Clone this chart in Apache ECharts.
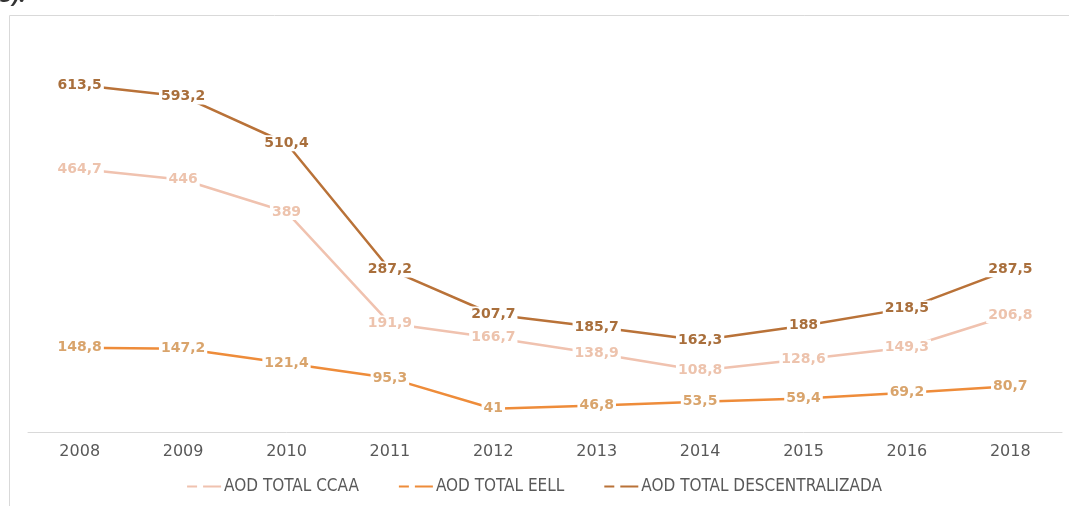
<!DOCTYPE html>
<html>
<head>
<meta charset="utf-8">
<script src="https://cdn.jsdelivr.net/npm/echarts@6/dist/echarts.min.js"></script>
<style>
html,body{margin:0;padding:0;background:#fff;}
#c{width:1069px;height:506px;}
</style>
</head>
<body>
<div id="c"></div>
<script>
const categories = ['2008','2009','2010','2011','2012','2013','2014','2015','2016','2018'];
const ccaa = [464.7,446,389,191.9,166.7,138.9,108.8,128.6,149.3,206.8];
const eell = [148.8,147.2,121.4,95.3,41,46.8,53.5,59.4,69.2,80.7];
const descentralizada = [613.5,593.2,510.4,287.2,207.7,185.7,162.3,188,218.5,287.5];
const seriesNames = ['AOD TOTAL CCAA','AOD TOTAL EELL','AOD TOTAL DESCENTRALIZADA'];

const chart = echarts.init(document.getElementById('c'));
const fmt = p => String(p.value).replace('.', ',');
function mk(name, data, lineColor, labelColor, z) {
  return {
    name, type: 'line', data, z,
    symbol: 'circle', symbolSize: 0.1, showSymbol: true,
    lineStyle: { color: lineColor, width: 2.5 },
    itemStyle: { color: lineColor },
    label: {
      show: true, position: 'inside', formatter: fmt,
      color: labelColor, fontFamily: 'DejaVu Sans', fontWeight: 'bold', fontSize: 14,
      backgroundColor: '#fff', padding: [1, 2]
    },
    labelLayout: { hideOverlap: false },
    emphasis: { disabled: true }
  };
}
const icon = 'path://M0,0 H10 V2 H0 Z M16,0 H34 V2 H16 Z';
chart.setOption({
  animation: false,
  grid: { left: 28, right: 7, top: 36, bottom: 74 },
  graphic: [
    { type: 'rect', shape: { x: 9.5, y: 15.5, width: 1080, height: 520 }, style: { fill: 'none', stroke: '#d9d9d9', lineWidth: 1 }, z: -1 },
    { type: 'text', left: 0, top: -15, style: { text: '5).', font: 'italic bold 22px "Open Sans"', fill: '#333' } }
  ],
  xAxis: {
    type: 'category', data: categories, boundaryGap: true,
    axisLine: { lineStyle: { color: '#d9d9d9', width: 1 } },
    axisTick: { show: false },
    axisLabel: { color: '#595959', fontSize: 16, fontFamily: 'DejaVu Sans', margin: 12 }
  },
  yAxis: { type: 'value', min: 0, max: 700, show: false, splitLine: { show: false } },
  legend: {
    bottom: 6, left: 'center', itemGap: 40, itemWidth: 34, itemHeight: 2,
    data: seriesNames.map(n => ({ name: n, icon })),
    textStyle: { color: '#595959', fontSize: 17, fontFamily: '"DejaVu Sans Condensed", "Open Sans", sans-serif', padding: [0, 0, 0, -2] }
  },
  series: [
    mk(seriesNames[0], ccaa, '#F0C2AF', '#EDC3AD', 2),
    mk(seriesNames[1], eell, '#EE8C3A', '#D9A46C', 3),
    mk(seriesNames[2], descentralizada, '#B97238', '#A96F3C', 4)
  ]
});
</script>
</body>
</html>
